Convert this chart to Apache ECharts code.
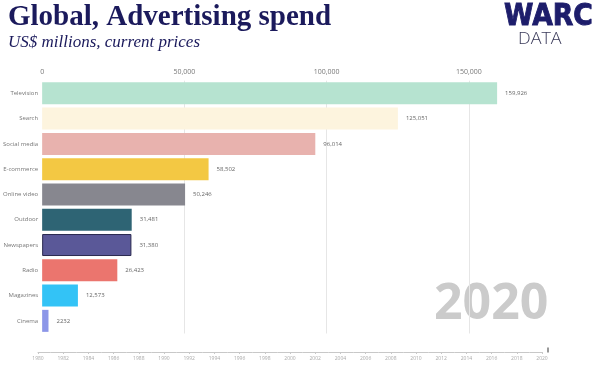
<!DOCTYPE html>
<html>
<head>
<meta charset="utf-8">
<script src="https://cdn.jsdelivr.net/npm/echarts@6/dist/echarts.min.js"></script>
<style>
  html, body { margin: 0; padding: 0; background: #fff; }
  #chart { width: 600px; height: 375px; }
</style>
</head>
<body>
<div id="chart"></div>
<script>
// data
const categories = ['Television', 'Search', 'Social media', 'E-commerce', 'Online video', 'Outdoor', 'Newspapers', 'Radio', 'Magazines', 'Cinema']
const spend = [159926, 125051, 96014, 58502, 50246, 31481, 31380, 26423, 12573, 2232]
const barColors = ['#b6e3d0', '#fdf4de', '#e8b2ae', '#f3c843', '#87878f', '#2e6474', '#5a5898', '#eb756e', '#33c3f6', '#8c96e8']
const valueTicks = [0, 50000, 100000, 150000]
const years = [1980, 2020]
const currentYear = 2020

const chart = echarts.init(document.getElementById('chart'))

function fmt(v) {
  // the source prints small numbers without a separator
  return v >= 10000 ? v.toLocaleString('en-US') : String(v)
}

chart.setOption({
  animation: false,
  backgroundColor: '#fff',
  textStyle: { fontFamily: 'Open Sans' },
  title: [
    {
      text: 'Global, Advertising spend',
      left: 8, top: 3, padding: 0,
      textStyle: { fontFamily: 'Liberation Serif', fontWeight: 'bold', fontSize: 29, color: '#1b1a5c' }
    },
    {
      text: 'US$ millions, current prices',
      left: 8, top: 34, padding: 0,
      textStyle: { fontFamily: 'Liberation Serif', fontStyle: 'italic', fontWeight: 'normal', fontSize: 17, color: '#1b1a5c' }
    }
  ],
  graphic: [
    {
      type: 'text', x: 504, y: 1, scaleX: 0.86,
      style: { text: 'WARC', font: '900 31px "DejaVu Sans"', fill: '#1d1d6b', stroke: '#1d1d6b', lineWidth: 1 }
    },
    {
      type: 'text', x: 518, y: 31, scaleX: 1.12,
      style: { text: 'DATA', font: '300 16px "Open Sans"', fill: '#3a3a5a' }
    },
    {
      type: 'text', left: 434, top: 280,
      style: { text: String(currentYear), font: 'bold 50px "Open Sans"', fill: '#cbcbcb' }
    }
  ],
  grid: [
    { left: 42, top: 80.7, width: 498, height: 252.8, containLabel: false },
    { left: 38, top: 352, width: 504, height: 0 }
  ],
  xAxis: [
    {
      gridIndex: 0,
      type: 'value',
      position: 'top',
      min: 0,
      max: 175000,
      interval: 50000,
      axisLine: { show: false },
      axisTick: { show: false },
      axisLabel: {
        color: '#777', fontSize: 7, margin: 5, showMaxLabel: false,
        formatter: v => valueTicks.includes(v) ? v.toLocaleString('en-US') : ''
      },
      splitLine: { show: true, showMinLine: false, showMaxLine: false, lineStyle: { color: '#e6e6e6', width: 1 } }
    },
    {
      gridIndex: 1,
      type: 'value',
      min: years[0],
      max: years[1],
      interval: 2,
      axisLine: { show: true, lineStyle: { color: '#c8c8c8', width: 1 } },
      axisTick: { show: true, length: 2, lineStyle: { color: '#c8c8c8' } },
      minorTick: { show: true, splitNumber: 2, length: 1, lineStyle: { color: '#d4d4d4' } },
      axisLabel: { color: '#aaa', fontSize: 5, margin: 4, formatter: v => String(v) },
      splitLine: { show: false }
    }
  ],
  yAxis: [
    {
      gridIndex: 0,
      type: 'category',
      data: categories,
      inverse: true,
      axisLine: { show: false },
      axisTick: { show: false },
      axisLabel: { color: '#777', fontSize: 6, margin: 4 }
    },
    {
      gridIndex: 1,
      type: 'value',
      show: false,
      min: 0,
      max: 1
    }
  ],
  series: [
    {
      type: 'bar',
      xAxisIndex: 0,
      yAxisIndex: 0,
      barWidth: 22,
      data: spend.map((v, i) => ({
        value: v,
        itemStyle: {
          color: barColors[i],
          borderColor: i === 6 ? '#2a2950' : barColors[i],
          borderWidth: i === 6 ? 1 : 0
        }
      })),
      label: {
        show: true,
        position: 'right',
        distance: 8,
        color: '#666',
        fontSize: 6,
        formatter: p => fmt(p.value)
      }
    },
    {
      type: 'scatter',
      xAxisIndex: 1,
      yAxisIndex: 1,
      symbol: 'rect',
      symbolSize: [1.5, 5],
      symbolOffset: [6, -2],
      itemStyle: { color: '#555' },
      data: [[currentYear, 0]]
    }
  ]
})
</script>
</body>
</html>
